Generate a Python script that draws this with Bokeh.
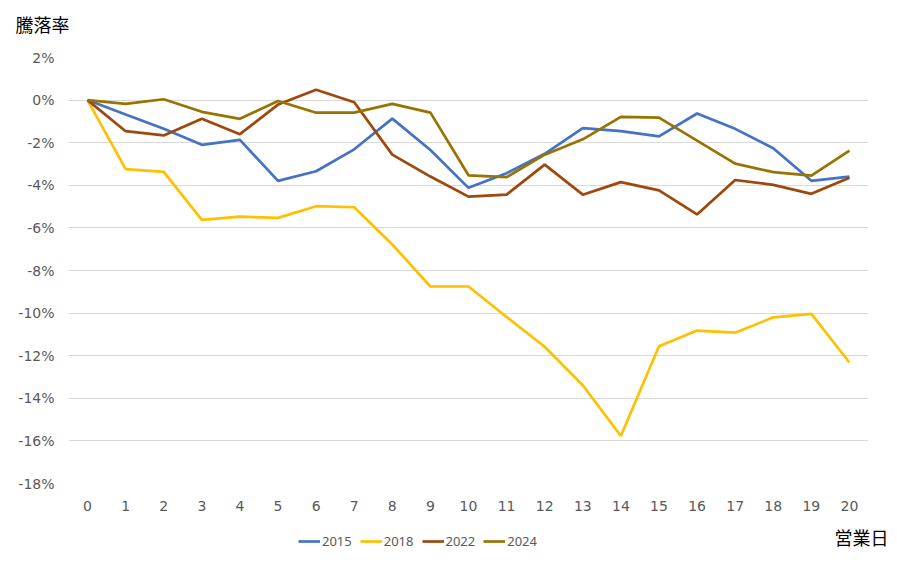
from bokeh.plotting import figure
from bokeh.models import Legend, LegendItem, Label, FixedTicker, CustomJSTickFormatter, Range1d
from bokeh.layouts import column
from bokeh.embed import file_html
from bokeh.resources import INLINE

days = list(range(21))
r2015 = [0, -0.68, -1.35, -2.10, -1.87, -3.79, -3.34, -2.31, -0.87, -2.34, -4.12,
         -3.43, -2.52, -1.32, -1.46, -1.70, -0.63, -1.35, -2.26, -3.79, -3.59]
r2018 = [0, -3.24, -3.37, -5.62, -5.47, -5.53, -4.98, -5.03, -6.78, -8.75, -8.75,
         -10.18, -11.58, -13.39, -15.77, -11.56, -10.82, -10.92, -10.20, -10.04, -12.32]
r2022 = [0, -1.46, -1.66, -0.88, -1.60, -0.21, 0.49, -0.10, -2.56, -3.59, -4.53,
         -4.44, -3.03, -4.44, -3.85, -4.24, -5.37, -3.75, -3.98, -4.40, -3.65]
r2024 = [0, -0.18, 0.04, -0.55, -0.88, -0.04, -0.59, -0.59, -0.18, -0.59, -3.53,
         -3.62, -2.56, -1.84, -0.79, -0.82, -1.90, -2.98, -3.38, -3.55, -2.37]
series_names = ["2015", "2018", "2022", "2024"]
colors = ["#4472C4", "#FFC000", "#9E480E", "#997300"]
y_ticks = list(range(-18, 3, 2))
all_series = [r2015, r2018, r2022, r2024]


def strip(height, y0, y1):
    f = figure(width=897, height=height, output_backend="svg", toolbar_location=None,
               x_axis_type=None, y_axis_type=None,
               x_range=Range1d(0, 897), y_range=Range1d(y0, y1),
               min_border_left=0, min_border_right=0, min_border_top=0, min_border_bottom=0)
    f.frame_align = False
    f.outline_line_color = None
    f.grid.grid_line_color = None
    return f


# title strip
t = strip(40, 40, 0)
t.add_layout(Label(x=15, y=17, x_units="screen", y_units="screen", text="騰落率",
                   text_font="Noto Sans CJK JP", text_font_size="18px",
                   text_color="#000000", text_baseline="middle", text_align="left"))

# main chart
p = figure(width=897, height=480, output_backend="svg", toolbar_location=None,
           x_range=(-0.5, 20.5), y_range=(-18, 2),
           min_border_left=68, min_border_right=29, min_border_top=17, min_border_bottom=37)
p.frame_align = False
p.outline_line_color = None
p.background_fill_color = "white"

p.xgrid.grid_line_color = None
p.ygrid.grid_line_color = "#D9D9D9"
p.ygrid.grid_line_width = 1

for ax in (p.xaxis, p.yaxis):
    ax.axis_line_color = None
    ax.major_tick_line_color = None
    ax.minor_tick_line_color = None
    ax.major_tick_out = 0
    ax.minor_tick_out = 0
    ax.major_label_text_color = "#595959"
    ax.major_label_text_font = "DejaVu Sans"
    ax.major_label_text_font_size = "14px"

p.xaxis.ticker = FixedTicker(ticks=days)
p.xaxis.major_label_standoff = 17
p.yaxis.ticker = FixedTicker(ticks=y_ticks)
p.yaxis.formatter = CustomJSTickFormatter(code="return tick.toFixed(0) + '%';")
p.yaxis.major_label_standoff = 14

for vals, c in zip(all_series, colors):
    p.line(days, vals, line_color=c, line_width=2.7)

# legend strip (same series, drawn out of view; only the legend shows)
q = strip(44, 564, 520)
items = []
for name, vals, c in zip(series_names, all_series, colors):
    r = q.line(days, vals, line_color=c, line_width=2.7)
    items.append(LegendItem(label=name, renderers=[r]))

legend = Legend(items=items, orientation="horizontal", location=(298, 14),
                glyph_width=22, glyph_height=14, label_height=14, label_standoff=2,
                spacing=8, padding=0, margin=0,
                border_line_color=None, background_fill_alpha=0,
                label_text_font="Noto Sans", label_text_font_size="13px",
                label_text_color="#595959")
q.add_layout(legend, "center")

q.add_layout(Label(x=888, y=28, x_units="screen", y_units="screen", text="営業日",
                   text_font="Noto Sans CJK JP", text_font_size="18px",
                   text_color="#000000", text_baseline="middle", text_align="right"))

layout = column(t, p, q, spacing=0)
open("out.html", "w").write(file_html(layout, INLINE))
